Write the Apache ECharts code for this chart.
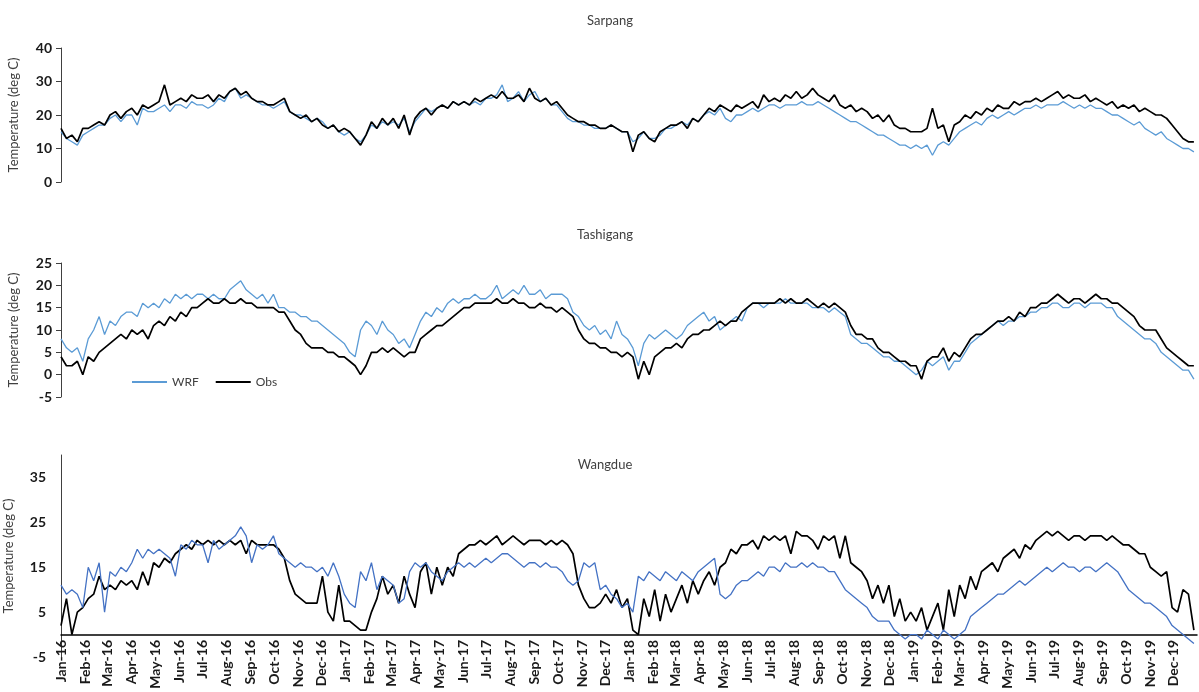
<!DOCTYPE html>
<html>
<head>
<meta charset="utf-8">
<title>Daily temperature: WRF vs observed</title>
<script src="https://cdn.jsdelivr.net/npm/echarts@6.0.0/dist/echarts.min.js"></script>
<style>
  html, body { margin: 0; padding: 0; background: #ffffff; }
  #chart { width: 1199px; height: 692px; }
</style>
</head>
<body>
<div id="chart"></div>
<script>
// Daily axis from 1 Jan 2016 to 31 Dec 2019; readings are one per week.
const FIRST_DAY_UTC = Date.UTC(2016, 0, 1);
const DAY_COUNT = 1461;
const STEP_DAYS = 7;

const monthLabels = [
  'Jan-16','Feb-16','Mar-16','Apr-16','May-16','Jun-16','Jul-16','Aug-16','Sep-16','Oct-16','Nov-16','Dec-16',
  'Jan-17','Feb-17','Mar-17','Apr-17','May-17','Jun-17','Jul-17','Aug-17','Sep-17','Oct-17','Nov-17','Dec-17',
  'Jan-18','Feb-18','Mar-18','Apr-18','May-18','Jun-18','Jul-18','Aug-18','Sep-18','Oct-18','Nov-18','Dec-18',
  'Jan-19','Feb-19','Mar-19','Apr-19','May-19','Jun-19','Jul-19','Aug-19','Sep-19','Oct-19','Nov-19','Dec-19'
];

const stationNames = ['Sarpang', 'Tashigang', 'Wangdue'];
const seriesNames = ['WRF', 'Obs'];

// Sarpang (deg C)
const sarpangWRF = [
  15,13,12,11,14, 15,16,17,17, 19,20,18,20, 20,17,22,21,21, 22,23,21,23, 23,22,24,23, 23,22,23,25,24, 27,28,25,26, 25,24,23,23, 22,23,24,21,20, 20,19,18,19, 18,16,17,15,14,
  15,13,12,14, 17,16,18,17, 18,17,19,15,18, 20,22,21,22, 23,22,24,23, 24,23,24,23,25, 25,26,29,24, 25,27,24,26, 27,24,25,23,23, 21,19,18,18, 17,17,16,16, 16,17,16,15,15,
  12,13,15,13, 13,14,16,16, 17,18,17,19,18, 20,21,20,22, 19,18,20,20, 21,22,21,22,23, 23,22,23,23, 23,24,23,23,24, 23,22,21,20, 19,18,18,17, 16,15,14,14, 13,12,11,11,10,
  11,10,11,8, 11,12,11,13, 15,16,17,18,17, 19,20,19,20, 21,20,21,22, 22,23,22,23,23, 23,24,23,22, 23,22,23,22, 22,21,20,20,19, 18,17,18,16, 15,14,15,13, 12,11,10,10,9
];
const sarpangObs = [
  16,13,14,12,16, 16,17,18,17, 20,21,19,21, 22,20,23,22,23, 24,29,23,24, 25,24,26,25, 25,26,24,26,25, 27,28,26,27, 25,24,24,23, 23,24,25,21,20, 19,20,18,19, 17,16,17,15,16,
  15,13,11,14, 18,16,19,17, 19,16,20,14,19, 21,22,20,22, 23,22,24,23, 24,23,25,24,25, 26,25,27,25, 25,26,24,28, 25,24,25,23,24, 22,20,19,18, 18,17,17,16, 16,17,16,15,15,
  9,14,15,13, 12,15,16,17, 17,18,16,19,18, 20,22,21,23, 22,21,23,22, 23,24,22,26,24, 25,24,26,25, 27,25,26,28,26, 25,24,26,23, 22,23,21,22, 21,19,20,18, 20,17,16,16,15,
  15,15,16,22, 16,17,12,17, 18,20,19,21,20, 22,21,23,22, 22,24,23,24, 24,25,24,25,26, 27,25,26,25, 25,26,24,25, 24,23,24,22,23, 22,23,21,22, 21,20,20,19, 17,15,13,12,12
];

// Tashigang (deg C)
const tashigangWRF = [
  8,6,5,6,3, 8,10,13,9, 12,11,13,14, 14,13,16,15,16, 15,17,16,18, 17,18,17,18, 18,17,18,17,17, 19,20,21,19, 18,17,18,16, 18,15,15,14,14, 13,13,12,12, 11,10,9,8,7,
  5,4,10,12, 11,9,12,10, 9,7,8,6,9, 12,14,13,15, 14,16,17,16, 17,17,18,17,17, 18,20,17,18, 19,18,20,18, 18,19,17,18,18, 18,17,14,13, 11,10,11,9, 10,8,12,9,8,
  6,2,7,9, 8,9,10,9, 8,9,11,12,13, 14,12,13,10, 11,12,13,12, 15,16,16,15,16, 16,16,17,16, 16,16,16,15,15, 15,14,15,14, 13,9,8,7, 7,6,5,4, 4,3,3,2,1,
  0,1,3,2, 3,4,1,3, 3,5,7,8,9, 10,11,12,11, 12,12,13,13, 14,14,15,15,16, 16,15,15,16, 16,15,16,16, 16,15,15,13,12, 11,10,9,8, 8,7,5,4, 3,2,1,1,-1
];
const tashigangObs = [
  4,2,2,3,0, 4,3,5,6, 7,8,9,8, 10,9,10,8,11, 12,11,13,12, 14,13,15,15, 16,17,16,16,17, 16,16,17,16, 16,15,15,15, 15,14,14,12,10, 9,7,6,6, 6,5,5,4,4,
  3,2,0,2, 5,5,6,5, 6,5,4,5,5, 8,9,10,11, 11,12,13,14, 15,15,16,16,16, 16,17,16,16, 17,16,16,15, 15,16,15,15,14, 15,14,13,10, 8,7,7,6, 6,5,5,4,5,
  4,-1,3,0, 4,5,6,6, 7,6,8,9,9, 10,10,11,12, 11,12,12,14, 15,16,16,16,16, 16,17,16,17, 16,16,17,16,15, 16,15,16,15, 14,11,9,9, 8,8,6,5, 5,4,3,3,2,
  2,-1,3,4, 4,6,3,5, 4,6,8,9,9, 10,11,12,12, 13,12,14,13, 15,15,16,16,17, 18,17,16,17, 17,16,17,18, 17,17,16,16,15, 14,13,11,10, 10,10,8,6, 5,4,3,2,2
];

// Wangdue (deg C)
const wangdueWRF = [
  11,9,10,9,6, 15,12,16,5, 14,13,15,14, 16,19,17,19,18, 19,18,17,13, 20,19,21,20, 20,16,21,19,20, 21,22,24,22, 16,20,19,20,22, 18,17,16,15, 16,15,15,14, 15,13,16,13,9,
  7,6,14,12, 16,10,13,12, 11,7,8,14,16, 15,16,14,13, 12,14,15,16, 15,16,15,16,17, 16,17,18,18, 17,16,15,16, 16,15,16,15,15, 14,12,11,12, 16,15,16,10, 11,9,8,6,7,
  5,13,12,14, 13,12,14,13, 12,14,13,12,14, 15,16,17,9, 8,9,11,12, 12,13,14,13,15, 15,14,16,15, 15,16,15,16,15, 15,14,14,12, 10,9,8,7, 6,4,3,3, 3,1,0,-1,0,
  0,-1,1,0, -1,1,0,-1, 0,1,4,5,6, 7,8,9,9, 10,11,12,11, 12,13,14,15,14, 15,16,15,15, 14,15,15,14, 15,16,15,14,12, 10,9,8,7, 7,6,5,4, 2,1,0,-1,-2
];
const wangdueObs = [
  2,8,0,5,6, 8,9,13,10, 11,10,12,11, 12,10,14,11,16, 15,17,16,18, 19,20,19,21, 20,21,20,21,20, 21,20,21,18, 21,20,20,20, 20,19,17,12,9, 8,7,7,7, 13,5,3,11,3,
  3,2,1,1, 5,8,13,9, 11,7,13,9,6, 14,16,9,15, 11,15,13,18, 19,20,20,21,20, 21,22,20,21, 22,21,20,21, 21,21,20,21,20, 21,20,18,11, 8,6,6,7, 9,7,10,6,8,
  1,0,8,4, 10,3,9,5, 8,11,7,12,9, 12,14,11,15, 16,19,18,20, 20,21,19,22,21, 22,21,22,18, 23,22,22,21,19, 22,21,22,17, 22,16,15,14, 12,8,11,7, 11,4,8,3,5,
  3,6,1,4, 7,1,10,4, 11,8,13,10,14, 15,16,14,17, 18,19,17,20, 19,21,22,23,22, 23,22,21,22, 22,21,22,22, 22,21,22,21,20, 20,19,18,18, 15,14,13,14, 6,5,10,9,1
];

// Daily category axis
const days = [];
for (let i = 0; i < DAY_COUNT; i++) {
  days.push(new Date(FIRST_DAY_UTC + i * 86400000).toISOString().slice(0, 10));
}
const weekly = vals => vals.map((v, i) => [i * STEP_DAYS, v]);
const monthLabelOf = iso => {
  const y = +iso.slice(0, 4), m = +iso.slice(5, 7);
  return monthLabels[(y - 2016) * 12 + (m - 1)];
};

const FONT = 'Lato, "Liberation Sans", sans-serif';
const wrfLight = '#5B9BD5';
const wrfDark = '#4472C4';
const obsColor = '#000000';
const axisColor = '#404040';

// Fixed plot boxes; month labels of the bottom panel may run past the page edge.
const gridBoxes = [
  { left: 61, top: 48, width: 1136, height: 134, outerBoundsMode: 'none' },
  { left: 61, top: 263, width: 1136, height: 134, outerBoundsMode: 'none' },
  { left: 61, top: 455, width: 1136, height: 202, outerBoundsMode: 'none' }
];

function yAxisFor(idx, min, max, interval, extra) {
  return Object.assign({
    gridIndex: idx,
    type: 'value',
    min, max, interval,
    name: 'Temperature (deg C)',
    nameLocation: 'middle',
    nameGap: 41,
    nameRotate: 90,
    nameTextStyle: { fontFamily: FONT, fontSize: 13, color: axisColor },
    axisLine: { show: true, lineStyle: { color: axisColor, width: 1 } },
    axisTick: { show: true, length: 5, lineStyle: { color: axisColor, width: 1 } },
    splitLine: { show: false },
    axisLabel: { fontFamily: FONT, fontWeight: 'bold', fontSize: 14, color: '#1a1a1a', margin: 9 }
  }, extra || {});
}

function hiddenX(idx) {
  return { gridIndex: idx, type: 'category', data: days, boundaryGap: false, show: false };
}

function line(name, idx, values, color, width, z) {
  return {
    name, type: 'line', xAxisIndex: idx, yAxisIndex: idx,
    data: weekly(values), showSymbol: false, symbol: 'none', silent: true,
    lineStyle: { color, width }, itemStyle: { color }, z
  };
}

const titleStyle = { fontFamily: FONT, fontSize: 13, fontWeight: 'normal', color: '#404040' };

const option = {
  animation: false,
  backgroundColor: '#ffffff',
  title: [
    { text: stationNames[0], left: 605, top: 9, textAlign: 'center', textStyle: titleStyle },
    { text: stationNames[1], left: 600, top: 223, textAlign: 'center', textStyle: titleStyle },
    { text: stationNames[2], left: 600, top: 453, textAlign: 'center', textStyle: titleStyle }
  ],
  legend: {
    data: seriesNames,
    left: 127, top: 371,
    icon: 'rect', itemWidth: 35, itemHeight: 2, itemGap: 17,
    selectedMode: false,
    textStyle: { fontFamily: FONT, fontSize: 12, color: axisColor }
  },
  grid: gridBoxes,
  xAxis: [
    hiddenX(0),
    hiddenX(1),
    {
      gridIndex: 2, type: 'category', data: days, boundaryGap: false,
      axisLine: { show: true, onZero: true, lineStyle: { color: '#000000', width: 1.5 } },
      axisTick: { show: false },
      splitLine: { show: false },
      axisLabel: {
        interval: (index, value) => value.endsWith('-01'),
        formatter: value => monthLabelOf(value),
        rotate: 90,
        // labels sit just under the zero line, inside the -5..0 band
        margin: -17,
        fontFamily: FONT, fontWeight: 'bold', fontSize: 14, color: '#1a1a1a'
      }
    }
  ],
  yAxis: [
    yAxisFor(0, 0, 40, 10),
    yAxisFor(1, -5, 25, 5),
    yAxisFor(2, -5, 40, 5, {
      nameGap: 46,
      axisTick: { show: false },
      axisLabel: {
        fontFamily: FONT, fontWeight: 'bold', fontSize: 14, color: '#1a1a1a', margin: 15,
        formatter: v => ((v + 5) % 10 === 0 ? String(v) : '')
      }
    })
  ],
  series: [
    line(seriesNames[0], 0, sarpangWRF, wrfLight, 1.3, 2),
    line(seriesNames[1], 0, sarpangObs, obsColor, 1.7, 3),
    line(seriesNames[0], 1, tashigangWRF, wrfLight, 1.3, 2),
    line(seriesNames[1], 1, tashigangObs, obsColor, 1.7, 3),
    line(seriesNames[1], 2, wangdueObs, obsColor, 1.7, 2),
    line(seriesNames[0], 2, wangdueWRF, wrfDark, 1.3, 3)
  ]
};

const chart = echarts.init(document.getElementById('chart'), null, { renderer: 'canvas' });
chart.setOption(option);
</script>
</body>
</html>
